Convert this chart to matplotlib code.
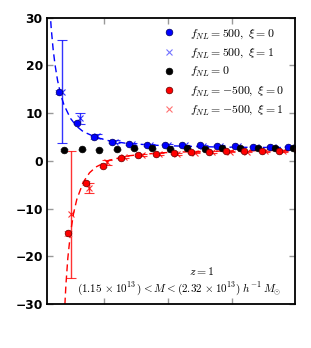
import numpy as np
import matplotlib
matplotlib.use("Agg")
import matplotlib.pyplot as plt
from matplotlib.lines import Line2D

plt.rcParams['mathtext.fontset'] = 'cm'

# k bins (h/Mpc)
k = np.array([0.005 + 0.00275 * i for i in range(14)])

# f_NL = 500, xi = 0
b_pos0 = [14.4, 8.0, 4.9, 3.9, 3.6, 3.3, 3.35, 3.25, 3.2, 3.1, 3.0, 2.95, 2.9, 2.9]
e_pos0 = [0.4, 0.3, 0.25, 0.2, 0.2, 0.15, 0.15, 0.15, 0.1, 0.1, 0.1, 0.1, 0.1, 0.1]
# f_NL = 500, xi = 1
b_pos1 = [14.5, 8.9, 5.1, 4.0, 3.5, 3.25, 3.3, 3.2, 3.1, 3.05, 3.0, 2.9, 2.9, 2.85]
e_pos1 = [10.8, 1.1, 0.4, 0.3, 0.25, 0.2, 0.2, 0.15, 0.15, 0.15, 0.1, 0.1, 0.1, 0.1]
# f_NL = 0
b_zero = [2.2, 2.4, 2.3, 2.4, 2.6, 2.6, 2.5, 2.6, 2.5, 2.6, 2.6, 2.6, 2.6, 2.6]
e_zero = [0.2, 0.15, 0.15, 0.1, 0.1, 0.1, 0.1, 0.1, 0.1, 0.1, 0.1, 0.1, 0.1, 0.1]
# f_NL = -500, xi = 0
b_neg0 = [-15.2, -4.7, -1.0, 0.6, 1.2, 1.5, 1.6, 1.8, 1.9, 2.0, 2.0, 2.1, 2.1, 2.2]
e_neg0 = [0.5, 0.4, 0.3, 0.2, 0.2, 0.15, 0.15, 0.15, 0.1, 0.1, 0.1, 0.1, 0.1, 0.1]
# f_NL = -500, xi = 1
b_neg1 = [-11.2, -5.7, -0.35, 0.8, 1.2, 1.4, 1.5, 1.7, 1.8, 1.9, 1.9, 2.0, 2.0, 2.1]
e_neg1 = [13.3, 1.05, 0.45, 0.3, 0.25, 0.2, 0.2, 0.15, 0.15, 0.15, 0.1, 0.1, 0.1, 0.1]

# model curves
k_pos = [0.0026, 0.003, 0.0033, 0.0036, 0.004, 0.0045, 0.005, 0.006, 0.007, 0.008,
         0.01, 0.012, 0.015, 0.02, 0.025, 0.03, 0.035, 0.041]
m_pos = [36.2, 27.8, 23.4, 20.1, 16.8, 13.8, 11.7, 8.9, 7.2, 6.1,
         4.9, 4.2, 3.6, 3.2, 3.0, 2.85, 2.8, 2.75]
k_neg = [0.0047, 0.005, 0.0053, 0.0056, 0.006, 0.0065, 0.007, 0.008, 0.009,
         0.01, 0.012, 0.015, 0.02, 0.025, 0.03, 0.035, 0.041]
m_neg = [-45.3, -33.8, -26.0, -20.4, -15.3, -11.0, -8.1, -4.5, -2.5,
         -1.3, 0.08, 1.03, 1.66, 1.91, 2.04, 2.12, 2.17]

fig = plt.figure(figsize=(3.11, 3.48), dpi=100)
ax = fig.add_axes([0.151, 0.1264, 0.7976, 0.8233])

dx = 1.0 / 6400  # one pixel in k
ms = 4.8

ax.plot(k_pos, m_pos, '--', color='b', lw=1.0, dashes=(5, 3))
ax.plot(k_neg, m_neg, '--', color='r', lw=1.0, dashes=(5, 3))

ax.errorbar(k - 2 * dx, b_pos1, yerr=e_pos1, fmt='x', color='b', ms=5, mew=0.8,
            elinewidth=1.0, capsize=3.5, alpha=0.8)
ax.errorbar(k + 7.5 * dx, b_neg1, yerr=e_neg1, fmt='x', color='r', ms=5, mew=0.8,
            elinewidth=1.0, capsize=3.5, alpha=0.8)

ax.errorbar(k - 5 * dx, b_pos0, yerr=e_pos0, fmt='o', color='b', ms=ms, mec='#000060',
            mew=0.5, ecolor=(0.4, 0.4, 1.0), capsize=3, elinewidth=0.8)
ax.errorbar(k, b_zero, yerr=e_zero, fmt='o', color='k', ms=ms, mec='k',
            mew=0.5, ecolor='0.5', capsize=3, elinewidth=0.8)
ax.errorbar(k + 4 * dx, b_neg0, yerr=e_neg0, fmt='o', color='r', ms=ms, mec='#600000',
            mew=0.5, ecolor=(1.0, 0.45, 0.45), capsize=3, elinewidth=0.8)

ax.set_xlim(0.00234, 0.0411)
ax.set_ylim(-30, 30)
ax.set_xticks([0.01125, 0.0212, 0.03125])
ax.set_xticklabels([])
ax.set_yticks([-30, -20, -10, 0, 10, 20, 30])
ax.set_yticklabels(['\u221230', '\u221220', '\u221210', '0', '10', '20', '30'],
                   fontsize=8.8, fontweight='bold')
ax.tick_params(direction='in', length=4, width=1, color='0.6', top=True, right=True, pad=3)
for s in ax.spines.values():
    s.set_linewidth(1.3)

handles = [
    Line2D([], [], ls='none', marker='o', color='b', mec='#000060', mew=0.5, ms=ms),
    Line2D([], [], ls='none', marker='x', color=(0.45, 0.45, 1.0), mew=0.8, ms=5),
    Line2D([], [], ls='none', marker='o', color='k', mew=0.5, ms=ms),
    Line2D([], [], ls='none', marker='o', color='r', mec='#600000', mew=0.5, ms=ms),
    Line2D([], [], ls='none', marker='x', color=(1.0, 0.45, 0.45), mew=0.8, ms=5),
]
labels = [r'$f_{NL}=500,\ \xi=0$', r'$f_{NL}=500,\ \xi=1$', r'$f_{NL}=0$',
          r'$f_{NL}=-500,\ \xi=0$', r'$f_{NL}=-500,\ \xi=1$']
ax.legend(handles, labels, loc='upper right', frameon=False, fontsize=8.5,
          handlelength=1.6, handletextpad=1.0, labelspacing=0.42, borderaxespad=0.0,
          bbox_to_anchor=(0.975, 0.985))

ax.text(0.625, 0.115, r'$z=1$', transform=ax.transAxes, ha='center', va='center',
        fontsize=8.5)
ax.text(0.532, 0.055, r'$(1.15\,\times 10^{13}\,)<M<(2.32\,\times 10^{13})\ h^{-1}\,M_{\odot}$',
        transform=ax.transAxes, ha='center', va='center', fontsize=8.0)

fig.savefig('out.png', dpi=100)
